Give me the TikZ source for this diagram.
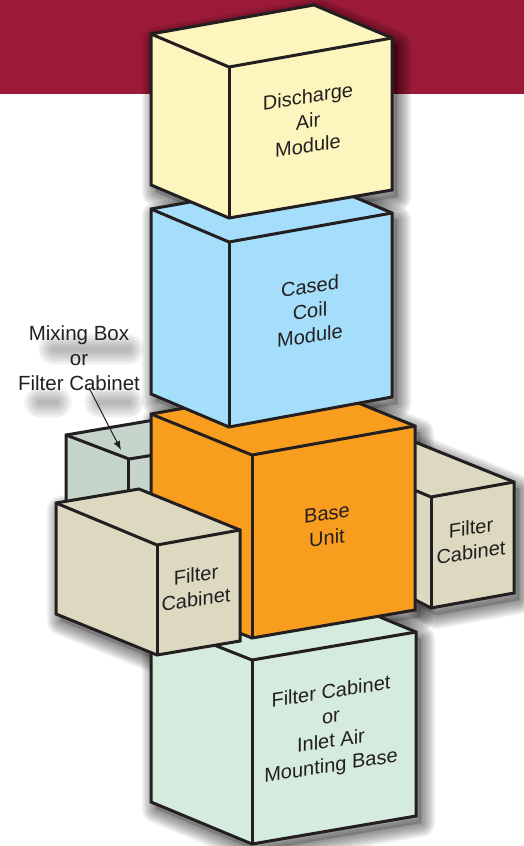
\documentclass[tikz,border=0pt]{standalone}
\usepackage{fontspec}
\setmainfont{Liberation Sans}
\usetikzlibrary{arrows.meta}
\definecolor{crimson}{HTML}{9A1A37}
\definecolor{ink}{HTML}{231F20}
\definecolor{yellowbox}{HTML}{FDF5BE}
\definecolor{bluebox}{HTML}{A5DEFB}
\definecolor{orangebox}{HTML}{F99D1F}
\definecolor{mintbox}{HTML}{D5EBDE}
\definecolor{tanbox}{HTML}{DDD9C0}
\definecolor{mixbox}{HTML}{C5D5CB}
\tikzset{
  edge/.style={draw=ink,line width=3pt,line join=miter,miter limit=4},
  lbl/.style={font=\fontsize{20}{24.7}\selectfont,text=ink,align=center,inner sep=0pt,yslant=.155},
  flatlbl/.style={font=\fontsize{20.5}{25}\selectfont,text=ink,align=center,inner sep=0pt},
  soft/.style={line join=round,line cap=round},
  pointer/.style={draw=ink,line width=1pt,-{Latex[length=9pt,width=7pt]}}
}
% shadow of a closed outline, offset and softened by stacking strokes
\newcommand{\softshadow}[1]{%
  \foreach \w in {28,25,22,19,16,13,10,7,4,1}{%
    \path[soft,fill=black,draw=black,fill opacity=.02,draw opacity=.055,line width=\w pt,shift={(5,7)}] #1 -- cycle;
  }%
}
% L=left top, K=back, R=right top, RB, FB, LB, F=front top
\newcommand{\solidbox}[8]{%
  \path[edge,fill=#1] #2 -- #3 -- #4 -- #5 -- #6 -- #7 -- cycle;
  \draw[edge] #2 -- #8 -- #4;
  \draw[edge] #8 -- #6;
}
\begin{document}
\begin{tikzpicture}[x=1pt,y=-1pt]
\useasboundingbox (0,0) rectangle (524,846);
\fill[crimson] (0,0) rectangle (524,94);
% text shadows
\foreach \w in {32,29,26,23,20,17,14,11,8,5}{
  \draw[soft,black,opacity=.03,line width=\w pt] (54,349) -- (128,349);
  \draw[soft,black,opacity=.03,line width=\w pt] (40,402) -- (56,402);
  \draw[soft,black,opacity=.03,line width=\w pt] (100,402) -- (128,402);
}
% box shadows
\softshadow{(151,620) -- (315,590) -- (416,632) -- (416,816) -- (252,844) -- (151,802)}
\softshadow{(416,442) -- (514,482) -- (514,593) -- (431,608) -- (416,600)}
\softshadow{(151,414) -- (314,385) -- (415,426) -- (415,610) -- (252,638) -- (151,598)}
\softshadow{(151,209) -- (314,180) -- (392,213) -- (392,397) -- (229,427) -- (151,394)}
\softshadow{(151,34) -- (314,5) -- (392,38) -- (392,190) -- (229,218) -- (151,185)}
\softshadow{(56,503) -- (139,489) -- (240,530) -- (240,641) -- (157,655) -- (56,614)}
% bottom module
\solidbox{mintbox}{(151,620)}{(315,590)}{(416,632)}{(416,816)}{(252,844)}{(151,802)}{(252,660)}
% mixing box
\path[edge,fill=mixbox] (66,435) -- (160,419) -- (160,510) -- (66,510) -- cycle;
\draw[edge] (66,435) -- (129,459) -- (160,454);
\draw[edge] (128.5,459) -- (128.5,510);
% right filter cabinet
\path[edge,fill=tanbox] (400,436) -- (514,482) -- (514,593) -- (431,608) -- (400,592) -- cycle;
\draw[edge] (400,484) -- (431,497) -- (514,482);
\draw[edge] (431,497) -- (431,608);
% base unit
\solidbox{orangebox}{(151,414)}{(314,385)}{(415,426)}{(415,610)}{(252,638)}{(151,598)}{(252,455)}
% cased coil
\solidbox{bluebox}{(151,209)}{(314,180)}{(392,213)}{(392,397)}{(229,427)}{(151,394)}{(229,242)}
% discharge
\solidbox{yellowbox}{(151,34)}{(314,5)}{(392,38)}{(392,190)}{(229,218)}{(151,185)}{(229,67)}
% left filter cabinet
\solidbox{tanbox}{(56,503)}{(139,489)}{(240,530)}{(240,641)}{(157,655)}{(56,614)}{(157,545)}
% labels
\node[lbl] (discharge) at (308,121) {Discharge\\Air\\Module};
\node[lbl] (coil) at (310,311) {Cased\\Coil\\Module};
\node[lbl] (base) at (327,526) {Base\\Unit};
\node[lbl] (filterright) at (471,540) {Filter\\Cabinet};
\node[lbl] (filterleft) at (196,587) {Filter\\Cabinet};
\node[lbl] (inlet) at (331,730) {Filter Cabinet\\or\\Inlet Air\\Mounting Base};
\node[flatlbl] (mixing) at (79,358) {Mixing Box\\or\\Filter Cabinet};
\coordinate (mixtip) at (121,450);
\draw[pointer] ([xshift=10pt,yshift=3pt]mixing.south) -- (mixtip);
\end{tikzpicture}
\end{document}
